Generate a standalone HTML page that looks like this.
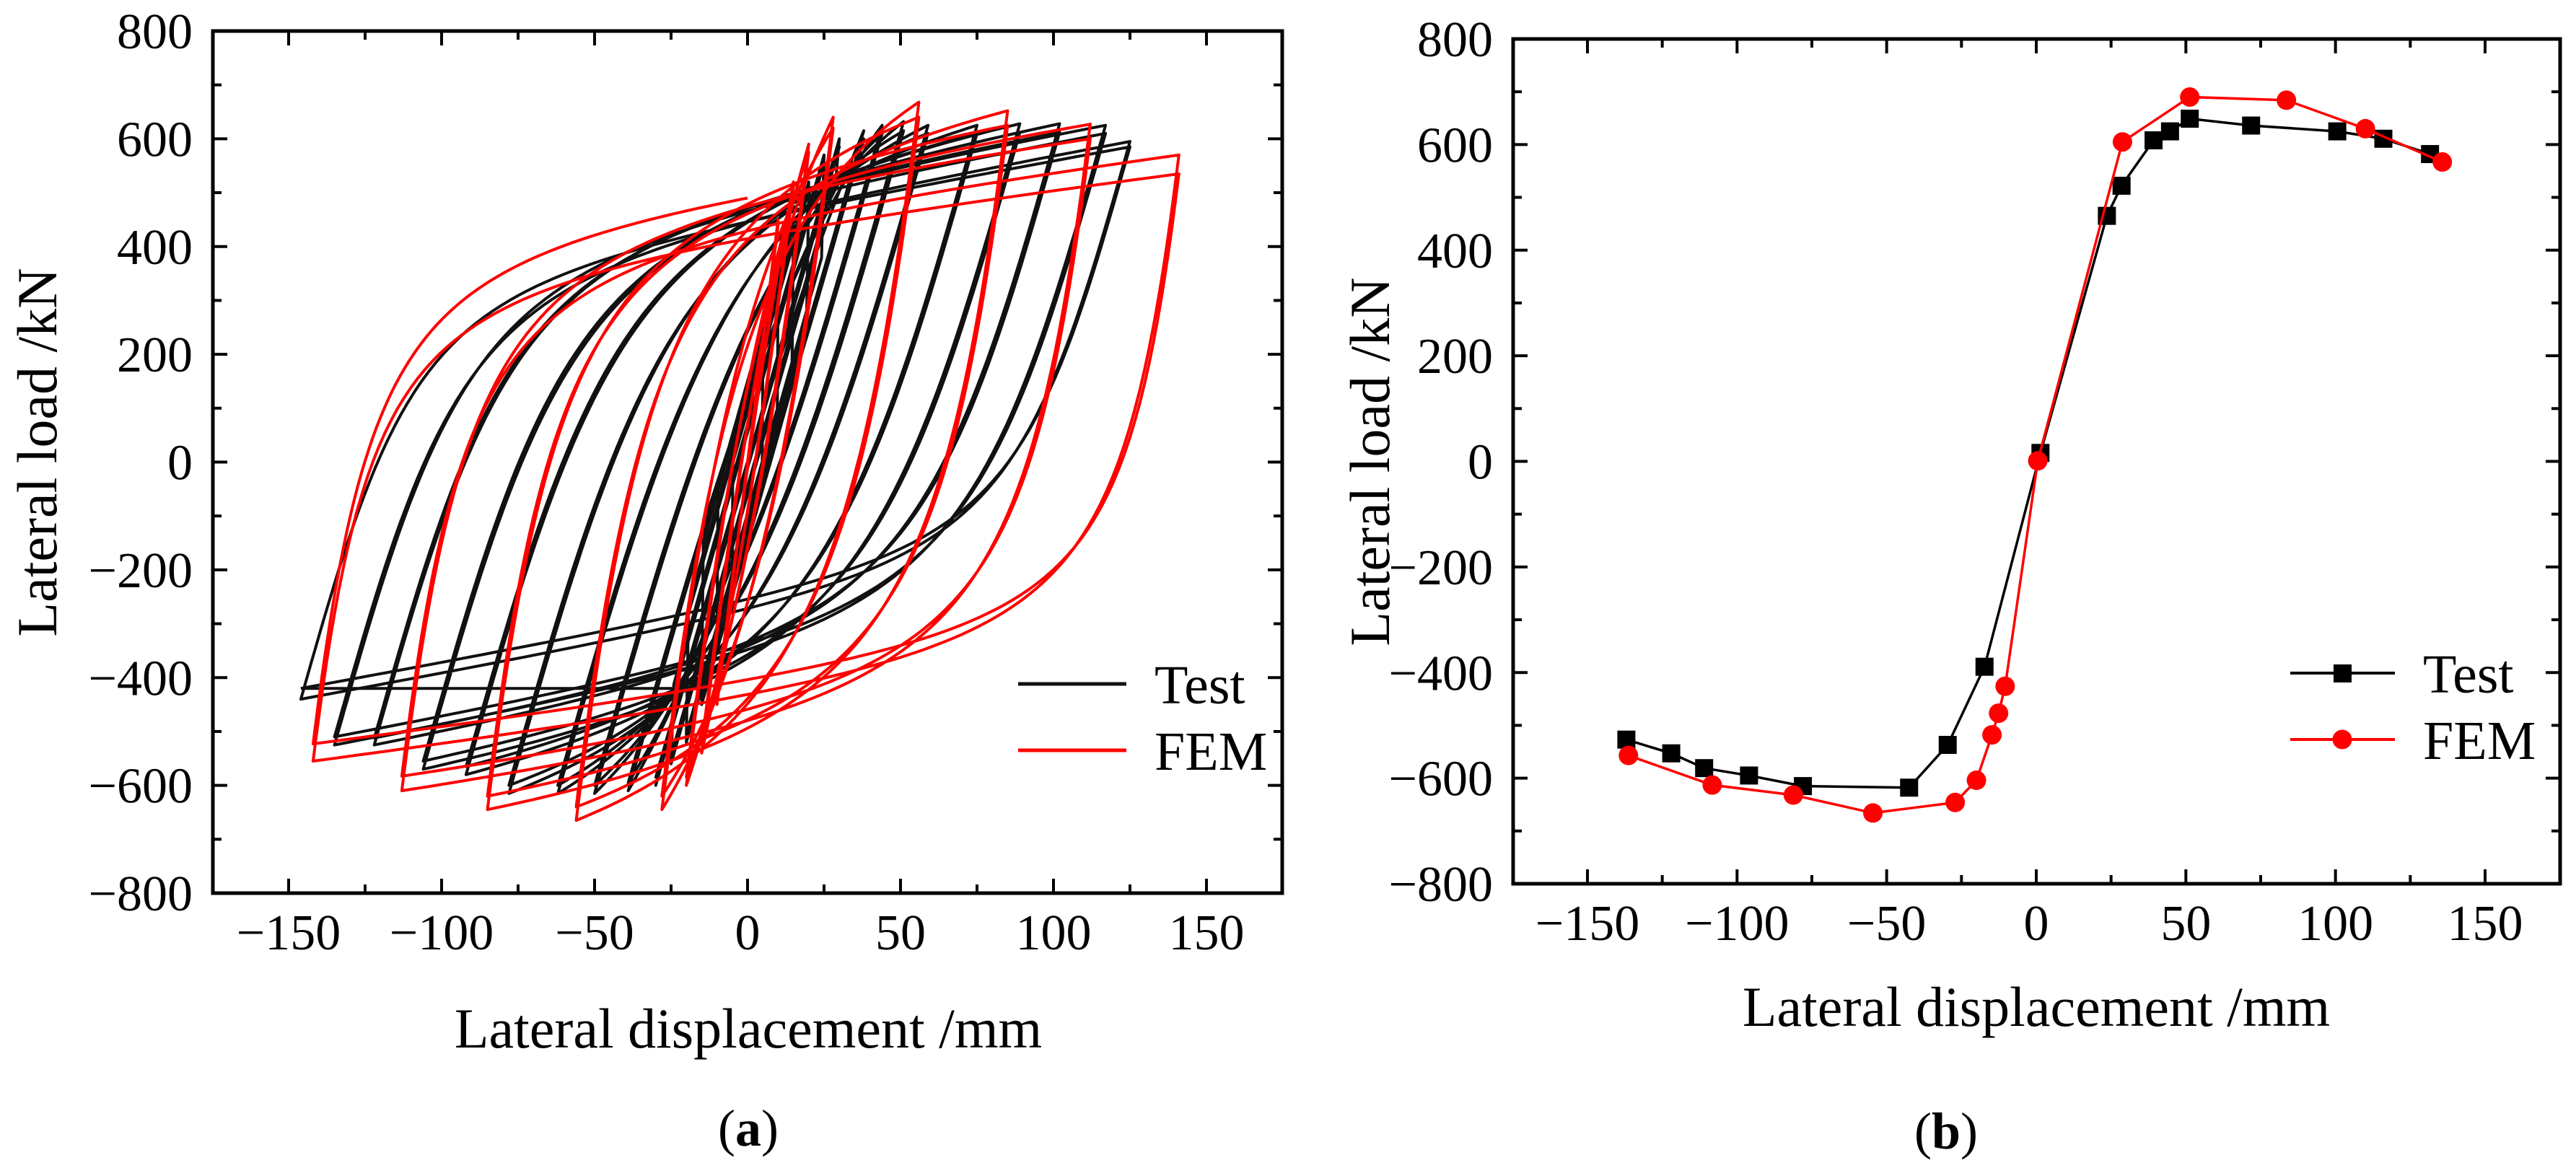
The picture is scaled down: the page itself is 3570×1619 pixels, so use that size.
<!DOCTYPE html>
<html><head><meta charset="utf-8"><style>
html,body{margin:0;padding:0;background:#fff;}
svg{display:block;font-family:"Liberation Serif",serif;}
</style></head><body>
<svg id="fig" width="3570" height="1619" viewBox="0 0 3570 1619" xmlns="http://www.w3.org/2000/svg">
<rect width="3570" height="1619" fill="#fff"/>
<g id="chartA"></g>
<g id="chartB"></g>
<text x="1037" y="1588" font-size="72" text-anchor="middle">(<tspan font-weight="bold">a</tspan>)</text>
<text x="2697" y="1592" font-size="72" text-anchor="middle">(<tspan font-weight="bold">b</tspan>)</text>
</svg>
<script>
// ---- Chart (a) data: hysteresis cycles [posDisp, posLoad, negDisp, negLoad]
const testPosDisp = [5,5,10,10,15,15,20,20,25,25,30,30,38,38,44,44,51,51,59,59,75,75,89,89,102,102,117,117,125,125];
const testPosLoad = [200,195,350,340,450,440,520,505,570,555,600,585,615,600,625,610,632,615,625,610,625,610,628,612,628,612,625,610,595,585];
const testNegDisp = [-5,-5,-10,-10,-15,-15,-20,-20,-25,-25,-30,-30,-39,-39,-50,-50,-62,-62,-78,-78,-92,-92,-106,-106,-122,-122,-135,-135,-146,-146];
const testNegLoad = [-200,-195,-350,-340,-450,-440,-520,-505,-560,-545,-600,-585,-610,-595,-615,-600,-615,-600,-615,-600,-580,-565,-570,-555,-525,-512,-525,-510,-440,-420];
const femPosDisp = [10,10,15,15,20,20,28,28,56,56,85,85,112,112,141,141];
const femPosLoad = [450,440,520,510,590,575,640,620,668,640,652,625,627,600,570,535];
const femNegDisp = [-10,-10,-15,-15,-20,-20,-28,-28,-56,-56,-85,-85,-113,-113,-142,-142];
const femNegLoad = [-450,-440,-540,-525,-600,-585,-645,-620,-665,-640,-645,-620,-610,-583,-555,-523];
const femFinalLoad = 490;
const testFinalFlat = [-146,-15,-420];
const xTicks = [-150,-100,-50,0,50,100,150];
const yTicks = [-800,-600,-400,-200,0,200,400,600,800];
// ---- Chart (b) data: skeleton curves
const skTestX = [-137,-122,-111,-96,-78,-42.5,-29.6,-17.3,1.4,23.6,28.5,39.2,44.7,51.3,71.8,100.6,116,131.6];
const skTestY = [-527,-553,-581,-595,-615,-618,-537,-389,16,465,522,608,625,649,636,625,611,582];
const skFemX = [-136.3,-108.3,-81.2,-54.6,-27.1,-20,-14.8,-12.6,-10.4,0.5,28.8,51.3,83.6,110,135.7];
const skFemY = [-557,-613,-632,-666,-646,-604,-518,-477,-426,1,605,690,684,630,567];

const NS="http://www.w3.org/2000/svg";
function mk(parent,tag,attrs){const e=document.createElementNS(NS,tag);for(const k in attrs)e.setAttribute(k,attrs[k]);parent.appendChild(e);return e;}

function axes(g,L,T,R,B,sx,sy,xlabel){
  // ticks
  for(let v=-175;v<=175;v+=25){const x=sx(v);if(x<L+2||x>R-2)continue;const major=v%50===0;const len=major?20:12;
    const t1=mk(g,'line',{x1:x,x2:x,y1:B,y2:B-len,stroke:'#000','stroke-width':4});
    
    
    mk(g,'line',{x1:x,x2:x,y1:T,y2:T+len,stroke:'#000','stroke-width':4});}
  for(let v=-700;v<=700;v+=100){const y=sy(v);const major=v%200===0;const len=major?20:12;
    const t2=mk(g,'line',{x1:L,x2:L+len,y1:y,y2:y,stroke:'#000','stroke-width':4});
    
    
    mk(g,'line',{x1:R,x2:R-len,y1:y,y2:y,stroke:'#000','stroke-width':4});}
  const box=mk(g,'rect',{x:L,y:T,width:R-L,height:B-T,fill:'none',stroke:'#000','stroke-width':5});
  
  
  xTicks.forEach(v=>{const t=mk(g,'text',{x:sx(v),y:B+78,'font-size':70,'text-anchor':'middle'});t.textContent=(v<0?'\u2212'+(-v):v);
    
    });
  yTicks.forEach(v=>{const t=mk(g,'text',{x:L-28,y:sy(v)+24,'font-size':70,'text-anchor':'end'});t.textContent=(v<0?'\u2212'+(-v):v);
    
    });
}

function mpBranch(x0,P0,x1,P1,E,b,R){
  const s=x1>x0?1:-1, D=s*(x1-x0), F=s*(P1-P0);
  const p=xi=>b*xi+(1-b)*xi/Math.pow(1+Math.pow(xi,R),1/R);
  let lo=1e-3,hi=1e6;
  for(let i=0;i<200;i++){const m=Math.sqrt(lo*hi);const g=m*p(D*E/m)-F;if(g>0)hi=m;else lo=m;}
  const Pr=Math.sqrt(lo*hi),xr=Pr/E,xi1=D/xr;const pts=[];
  const N=90;for(let i=0;i<=N;i++){const xi=xi1*Math.pow(i/N,1.6);pts.push([x0+s*xi*xr,P0+s*Pr*p(xi)]);}
  pts[pts.length-1]=[x1,P1];return pts;
}

function hyst(g,sx,sy,pd,pl,nd,nl,E,b,R,color,name,finalLoad){
  let cx=0,cy=0,all=[];
  for(let i=0;i<pd.length;i++){
    all=all.concat(mpBranch(cx,cy,pd[i],pl[i],E,b,R));
    all=all.concat(mpBranch(pd[i],pl[i],nd[i],nl[i],E,b,R));
    cx=nd[i];cy=nl[i];
  }
  if(finalLoad!==undefined){all=all.concat(mpBranch(cx,cy,0,finalLoad,E,b,R));}
  const d='M'+all.map(q=>sx(q[0]).toFixed(1)+','+sy(q[1]).toFixed(1)).join('L');
  const path=mk(g,'path',{d:d,fill:'none',stroke:color,'stroke-width':4,'stroke-linejoin':'round'});
  
  
}

// ---------- Chart A
(function(){
  const g=document.getElementById('chartA');
  const L=295,T=43,R=1777,B=1238;
  const sx=v=>400+(v+150)*(1672-400)/300;
  const sy=v=>640.5-v*(1195/1600);
  const clip=mk(g,'clipPath',{id:'clipA'});mk(clip,'rect',{x:L,y:T,width:R-L,height:B-T});
  const data=mk(g,'g',{'clip-path':'url(#clipA)'});
  hyst(data,sx,sy,testPosDisp,testPosLoad,testNegDisp,testNegLoad,20,0.05,2.2,'#111','test-hysteresis-curve');
  const fl=mk(data,'line',{x1:sx(testFinalFlat[0]),x2:sx(testFinalFlat[1]),y1:sy(testFinalFlat[2]),y2:sy(testFinalFlat[2]),stroke:'#111','stroke-width':4});
  
  
  hyst(data,sx,sy,femPosDisp,femPosLoad,femNegDisp,femNegLoad,45,0.015,1.4,'#f00','fem-hysteresis-curve',femFinalLoad);
  axes(g,L,T,R,B,sx,sy);
  const yl=mk(g,'text',{x:0,y:0,'font-size':78,'text-anchor':'middle',transform:'translate(78,627) rotate(-90)'});yl.textContent='Lateral load /kN';
  
  const xl=mk(g,'text',{x:1037,y:1452,'font-size':78,'text-anchor':'middle'});xl.textContent='Lateral displacement /mm';
  
  const lg=mk(g,'g',{});
  mk(lg,'line',{x1:1411,x2:1561,y1:948,y2:948,stroke:'#111','stroke-width':5});
  const t1=mk(lg,'text',{x:1600,y:975,'font-size':76});t1.textContent='Test';
  
  mk(lg,'line',{x1:1411,x2:1561,y1:1040,y2:1040,stroke:'#f00','stroke-width':5});
  const t2=mk(lg,'text',{x:1600,y:1067,'font-size':76});t2.textContent='FEM';
  
})();

// ---------- Chart B
(function(){
  const g=document.getElementById('chartB');
  const L=2097,T=54,R=3548,B=1225;
  const sx=v=>2200+(v+150)*(3444-2200)/300;
  const sy=v=>639.5-v*((B-T)/1600);
  axes(g,L,T,R,B,sx,sy);
  function series(xs,ys,color,marker,name){
    const d='M'+xs.map((x,i)=>sx(x).toFixed(1)+','+sy(ys[i]).toFixed(1)).join('L');
    const p=mk(g,'path',{d:d,fill:'none',stroke:color,'stroke-width':3.5});
    
    xs.forEach((x,i)=>{let m;
      if(marker==='sq'){m=mk(g,'rect',{x:sx(x)-12.5,y:sy(ys[i])-12.5,width:25,height:25,fill:color});}
      else{m=mk(g,'circle',{cx:sx(x),cy:sy(ys[i]),r:13.5,fill:color});}
      
      });
  }
  series(skTestX,skTestY,'#000','sq','test');
  series(skFemX,skFemY,'#f00','ci','fem');
  const yl=mk(g,'text',{x:0,y:0,'font-size':78,'text-anchor':'middle',transform:'translate(1925,640) rotate(-90)'});yl.textContent='Lateral load /kN';
  
  const xl=mk(g,'text',{x:2822,y:1422,'font-size':78,'text-anchor':'middle'});xl.textContent='Lateral displacement /mm';
  
  const lg=mk(g,'g',{});
  mk(lg,'line',{x1:3174,x2:3319,y1:933,y2:933,stroke:'#000','stroke-width':4});
  mk(lg,'rect',{x:3234,y:921,width:25,height:25,fill:'#000'});
  const t1=mk(lg,'text',{x:3358,y:960,'font-size':76});t1.textContent='Test';
  
  mk(lg,'line',{x1:3174,x2:3319,y1:1025,y2:1025,stroke:'#f00','stroke-width':4});
  mk(lg,'circle',{cx:3246,cy:1025,r:13.5,fill:'#f00'});
  const t2=mk(lg,'text',{x:3358,y:1052,'font-size':76});t2.textContent='FEM';
  
})();
</script>
</body></html>
